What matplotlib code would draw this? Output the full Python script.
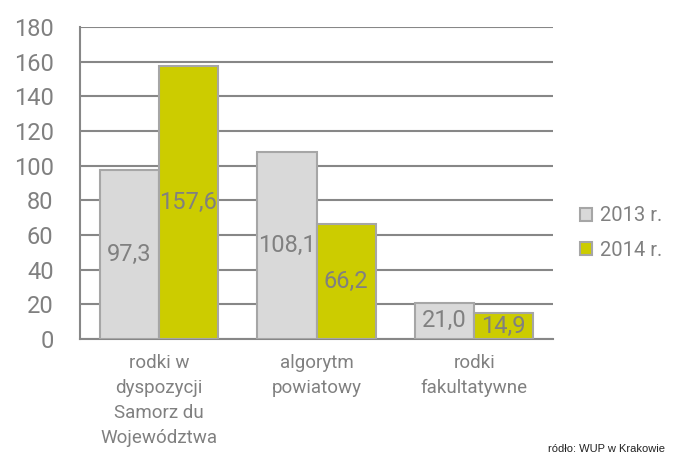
import matplotlib
matplotlib.use("Agg")
import matplotlib.pyplot as plt
import numpy as np
from matplotlib.patches import Patch

categories = ["rodki w\ndyspozycji\nSamorz du\nWojewództwa", "algorytm\npowiatowy", "rodki\nfakultatywne"]
series_names = ["2013 r.", "2014 r."]
values_2013 = [97.3, 108.1, 21.0]
values_2014 = [157.6, 66.2, 14.9]
value_labels_2013 = ["97,3", "108,1", "21,0"]
value_labels_2014 = ["157,6", "66,2", "14,9"]
yticks = [0, 20, 40, 60, 80, 100, 120, 140, 160, 180]

plt.rcParams['font.family'] = ['Roboto', 'DejaVu Sans']
txt = "#808080"
grid = "#878787"

fig = plt.figure(figsize=(6.77, 4.57), dpi=100)
ax = fig.add_axes([80/677, 1-339/457, 473/677, 312/457])

x = np.arange(len(categories))
w = 0.375
ax.bar(x - w/2, values_2013, w, color="#d9d9d9", edgecolor="#a6a6a6", linewidth=1.5, zorder=3)
ax.bar(x + w/2, values_2014, w, color="#cccc00", edgecolor="#a6a6a6", linewidth=1.5, zorder=3)

for xi, v, lab in zip(x - w/2, values_2013, value_labels_2013):
    ax.text(xi, v/2, lab, ha="center", va="center", fontsize=17, color=txt, zorder=4)
for xi, v, lab in zip(x + w/2, values_2014, value_labels_2014):
    ax.text(xi, v/2, lab, ha="center", va="center", fontsize=17, color=txt, zorder=4)

ax.set_xlim(-0.5, 2.5)
ax.set_ylim(0, 180)
ax.set_yticks(yticks)
ax.set_yticklabels([str(t) for t in yticks], fontsize=17, color=txt)
ax.yaxis.grid(True, color=grid, linewidth=1.5, zorder=0)
ax.set_axisbelow(True)
ax.tick_params(axis="y", length=0, pad=19)
ax.tick_params(axis="x", length=0, pad=11)
ax.set_xticks(x)
ax.set_xticklabels(categories, fontsize=13.5, color=txt, linespacing=1.5, va="top")
for s in ["top", "right"]:
    ax.spines[s].set_visible(False)
ax.spines["left"].set_color(grid)
ax.spines["left"].set_linewidth(1.5)
ax.spines["bottom"].set_color(grid)
ax.spines["bottom"].set_linewidth(1.5)

handles = [Patch(facecolor="#d9d9d9", edgecolor="#a6a6a6", linewidth=1.5),
           Patch(facecolor="#cccc00", edgecolor="#a6a6a6", linewidth=1.5)]
fig.legend(handles, series_names, loc="center left", bbox_to_anchor=(562/677, 1-233/457),
           frameon=False, fontsize=14.5, labelcolor=txt, handlelength=0.6, handleheight=0.6,
           handletextpad=0.4, labelspacing=0.75)

fig.text(665/677, 1-449/457, "ródło: WUP w Krakowie", ha="right", va="center", fontsize=8, color="#222222",
         family=["Liberation Sans", "DejaVu Sans"])

fig.savefig("out.png", dpi=100)
